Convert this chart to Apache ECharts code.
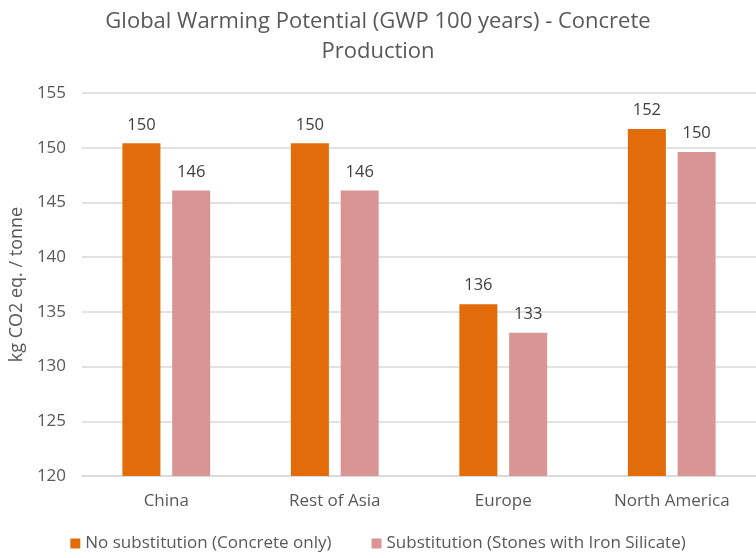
<!DOCTYPE html>
<html>
<head>
<meta charset="utf-8">
<script src="https://cdn.jsdelivr.net/npm/echarts@6/dist/echarts.min.js"></script>
<style>
  html, body { margin: 0; padding: 0; background: #ffffff; }
  #chart { width: 756px; height: 558px; }
</style>
</head>
<body>
<div id="chart"></div>
<script>
// Regions and GWP results (kg CO2 eq. per tonne of concrete)
const regions = ['China', 'Rest of Asia', 'Europe', 'North America'];
const noSubstitution = [150.4, 150.4, 135.7, 151.7];
const substitution = [146.1, 146.1, 133.1, 149.6];
const seriesNames = ['No substitution (Concrete only)', 'Substitution (Stones with Iron Silicate)'];
const yTicks = { min: 120, max: 155, step: 5 };

const FONT = '"Open Sans", "Noto Sans", sans-serif';
const TEXT = '#595959';

const chart = echarts.init(document.getElementById('chart'), null, { renderer: 'canvas' });

const labelStyle = {
  show: true,
  position: 'top',
  distance: 10,
  color: '#404040',
  fontFamily: FONT,
  fontSize: 16.5,
  formatter: p => Math.round(p.value)
};

chart.setOption({
  animation: false,
  backgroundColor: '#ffffff',
  title: {
    text: 'Global Warming Potential (GWP 100 years) - Concrete\nProduction',
    left: 'center',
    top: 2,
    textStyle: {
      color: TEXT,
      fontFamily: FONT,
      fontWeight: 'normal',
      fontSize: 22,
      lineHeight: 30
    }
  },
  legend: {
    bottom: 1,
    left: 'center',
    itemWidth: 10,
    itemHeight: 10,
    itemGap: 40,
    icon: 'rect',
    textStyle: { color: TEXT, fontFamily: FONT, fontSize: 17 },
    data: seriesNames
  },
  grid: {
    left: 79,
    top: 93,
    width: 679,
    height: 383,
    containLabel: false
  },
  xAxis: {
    type: 'category',
    data: regions,
    axisTick: { show: false },
    axisLine: { lineStyle: { color: '#d9d9d9', width: 1.5 } },
    axisLabel: { color: TEXT, fontFamily: FONT, fontSize: 17, margin: 17 }
  },
  yAxis: {
    type: 'value',
    min: yTicks.min,
    max: yTicks.max,
    interval: yTicks.step,
    name: 'kg CO2 eq. / tonne',
    nameLocation: 'middle',
    nameGap: 56,
    nameTextStyle: { color: TEXT, fontFamily: FONT, fontSize: 18 },
    axisLine: { show: false },
    axisTick: { show: false },
    axisLabel: { color: TEXT, fontFamily: FONT, fontSize: 17, margin: 16 },
    splitLine: { lineStyle: { color: '#d9d9d9', width: 1.5 } }
  },
  series: [
    {
      name: seriesNames[0],
      type: 'bar',
      data: noSubstitution,
      barWidth: 38,
      barGap: '31%',
      itemStyle: { color: '#e36c0a' },
      label: labelStyle
    },
    {
      name: seriesNames[1],
      type: 'bar',
      data: substitution,
      barWidth: 38,
      barGap: '31%',
      itemStyle: { color: '#d99594' },
      label: labelStyle
    }
  ]
});
</script>
</body>
</html>
